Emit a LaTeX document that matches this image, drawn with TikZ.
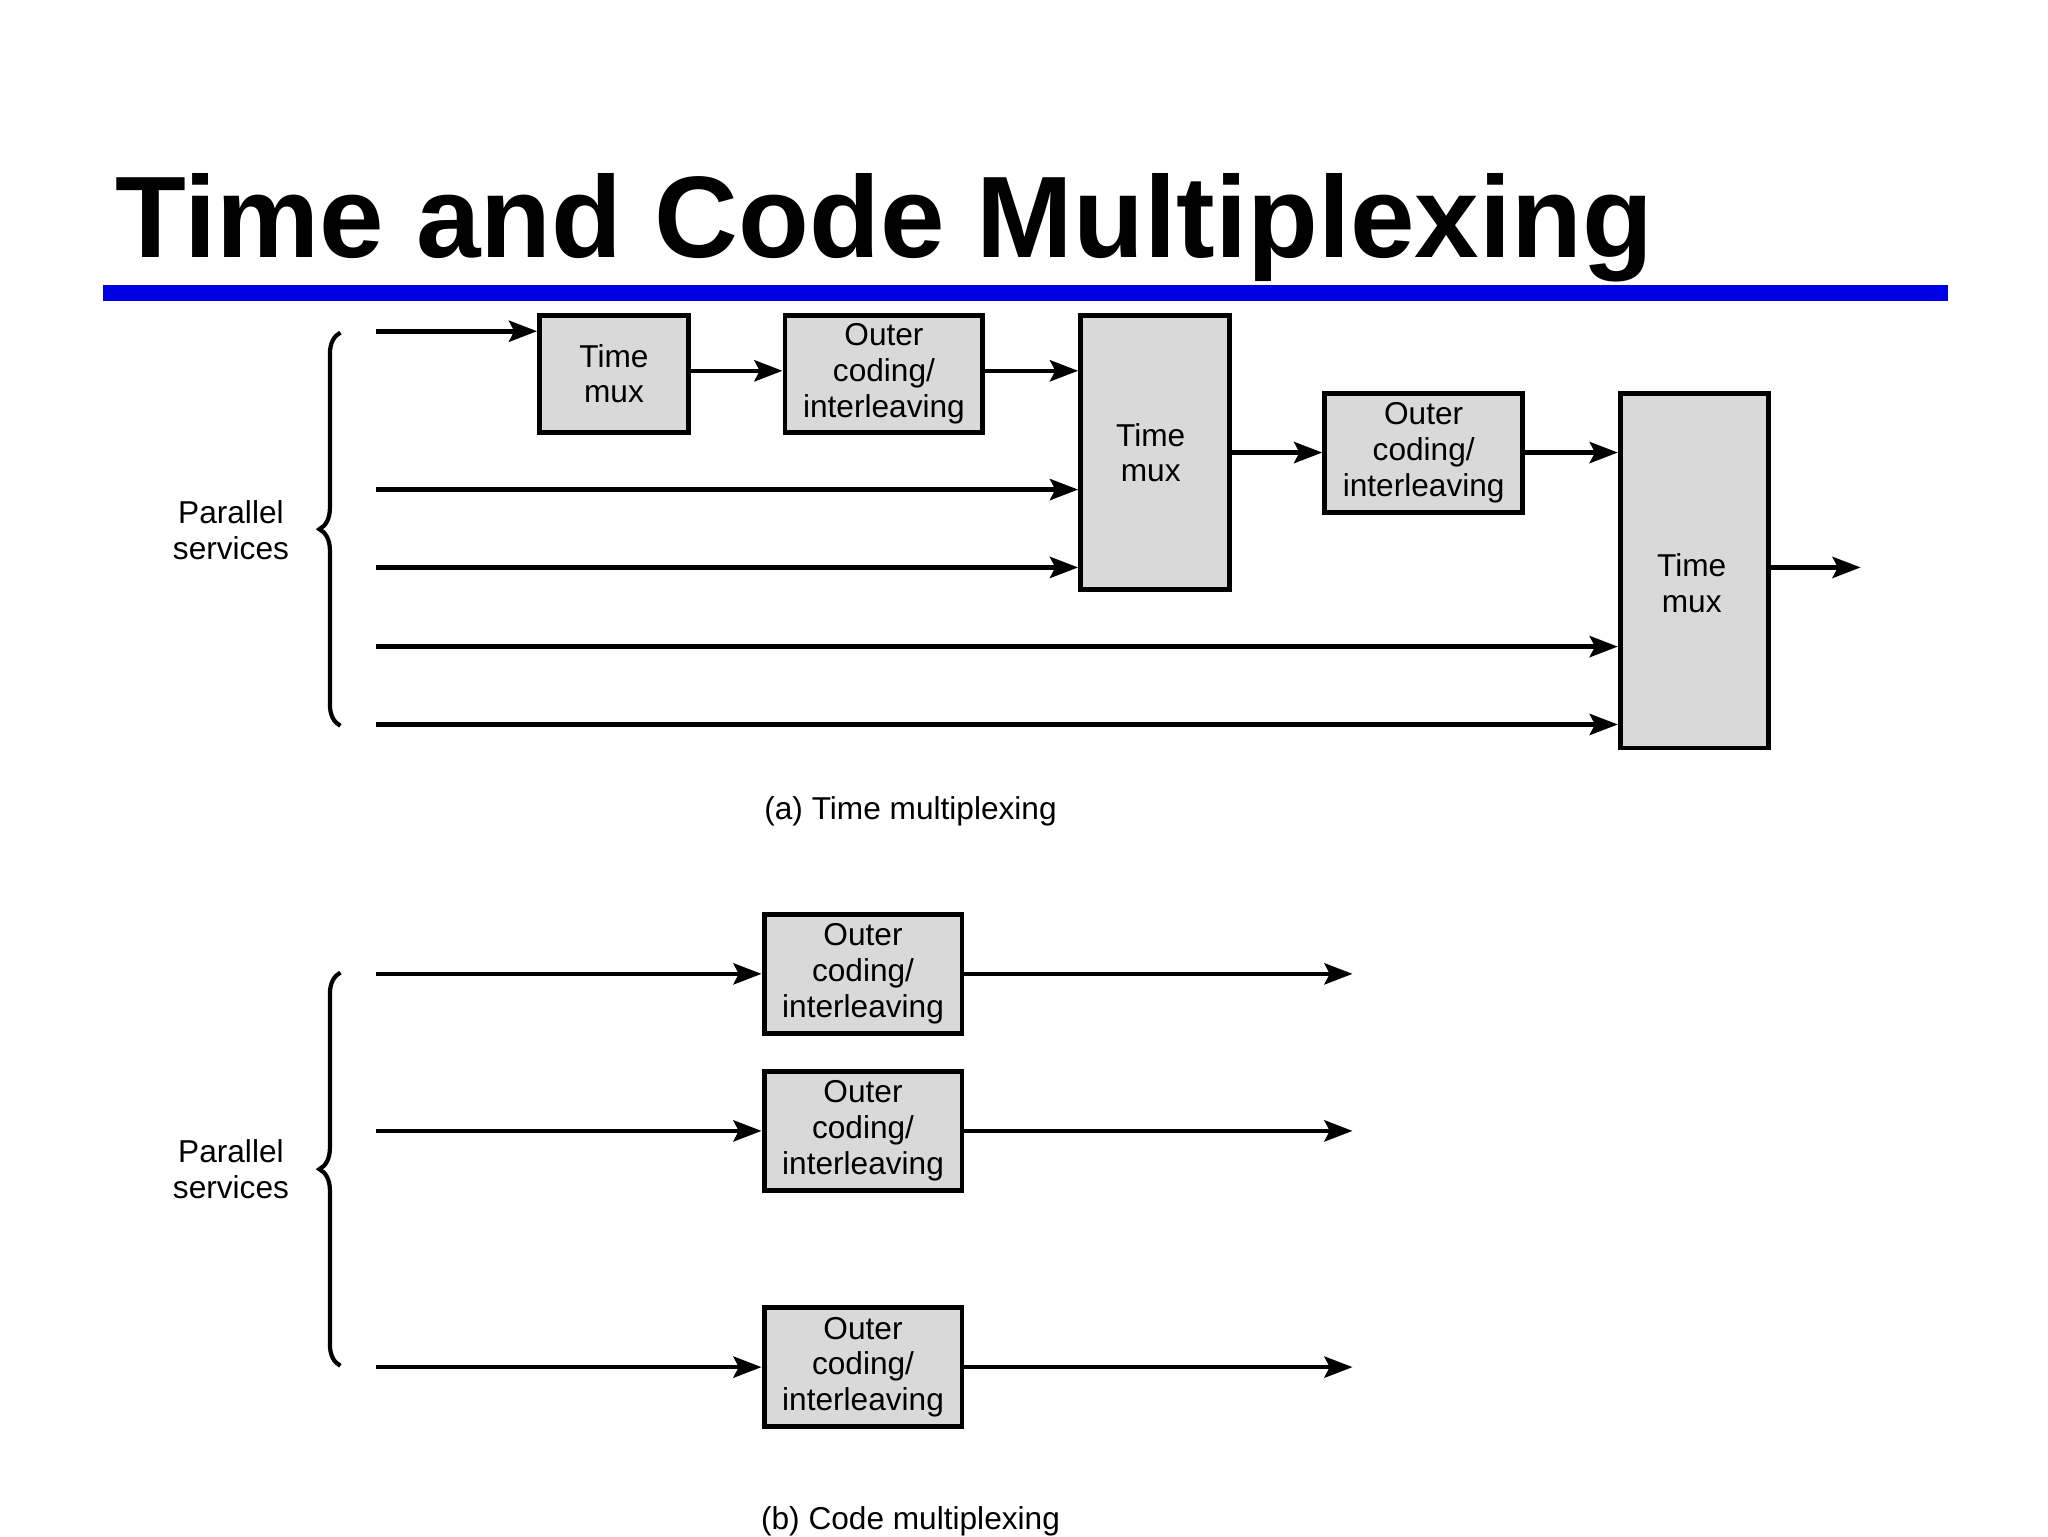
\documentclass[tikz,border=0pt]{standalone}
\usepackage{fontspec}
\setmainfont{Liberation Sans}
\usetikzlibrary{arrows.meta,decorations.pathreplacing}
\tikzset{
  blk/.style={draw, line width=1.4pt, fill=black!15, align=center, inner sep=0pt,
    font=\fontsize{9}{10.2}\selectfont},
  sig/.style={line width=1.3pt, -{Stealth[length=8pt,width=6pt,inset=1.5pt]}},
  lbl/.style={align=center, font=\fontsize{9}{10.2}\selectfont},
  brc/.style={line width=1.2pt, decorate, decoration={brace, amplitude=6pt}}
}
\begin{document}
\begin{tikzpicture}[x=0.013196cm, y=-0.013196cm]
    \useasboundingbox (0,0) rectangle (1552,1164);
    % title
    \node[anchor=base west, inner sep=0pt, font=\fontsize{33}{36}\bfseries\selectfont] (title) at (87,195) {Time and Code Multiplexing};
    \fill[blue!90!black] (78,216) rectangle (1476,228);

    % (a) time multiplexing
    \draw[brc] (258,550) -- (258,252);
    \node[lbl] (parA) at (175,402) {Parallel\\services};
    \node[blk, anchor=north west, minimum width=1.49cm, minimum height=1.17cm] (muxA) at (407,237) {Time\\mux};
    \node[blk, anchor=north west, minimum width=1.98cm, minimum height=1.17cm] (codA) at (593,237) {Outer\\coding/\\interleaving};
    \node[blk, anchor=north west, minimum width=1.49cm, minimum height=2.74cm] (muxB) at (817,237) {};
    \node[lbl] at (872,343) {Time\\mux};
    \node[blk, anchor=north west, minimum width=1.98cm, minimum height=1.19cm] (codB) at (1002,296) {Outer\\coding/\\interleaving};
    \node[blk, anchor=north west, minimum width=1.48cm, minimum height=3.55cm] (muxC) at (1226,296) {};
    \node[lbl] at (1282,442) {Time\\mux};
    \coordinate (inA1) at (285,251);
    \coordinate (inA2) at (285,371);
    \coordinate (inA3) at (285,430);
    \coordinate (inA4) at (285,490);
    \coordinate (inA5) at (285,549);
    \coordinate (outA) at (1410,430);
    \draw[sig] (inA1) -- (inA1 -| muxA.west);
    \draw[sig] (muxA.east |- 0,281) -- (codA.west |- 0,281);
    \draw[sig] (codA.east |- 0,281) -- (muxB.west |- 0,281);
    \draw[sig] (inA2) -- (inA2 -| muxB.west);
    \draw[sig] (inA3) -- (inA3 -| muxB.west);
    \draw[sig] (muxB.east |- codB) -- (codB.west);
    \draw[sig] (codB.east) -- (codB.east -| muxC.west);
    \draw[sig] (inA4) -- (inA4 -| muxC.west);
    \draw[sig] (inA5) -- (inA5 -| muxC.west);
    \draw[sig] (outA -| muxC.east) -- (outA);
    \node[lbl] (capA) at (690,615) {(a) Time multiplexing};

    % (b) code multiplexing
    \draw[brc] (258,1035) -- (258,737);
    \node[lbl] (parB) at (175,886) {Parallel\\services};
    \foreach \i/\y in {1/738, 2/857, 3/1036} {
        \node[blk, minimum width=1.98cm, minimum height=1.19cm] (codC\i) at (654,\y) {Outer\\coding/\\interleaving};
        \coordinate (inB\i) at (285,\y);
        \coordinate (outB\i) at (1025,\y);
        \draw[sig] (inB\i) -- (codC\i.west);
        \draw[sig] (codC\i.east) -- (outB\i);
    }
    \node[lbl] (capB) at (690,1153) {(b) Code multiplexing};
\end{tikzpicture}
\end{document}
